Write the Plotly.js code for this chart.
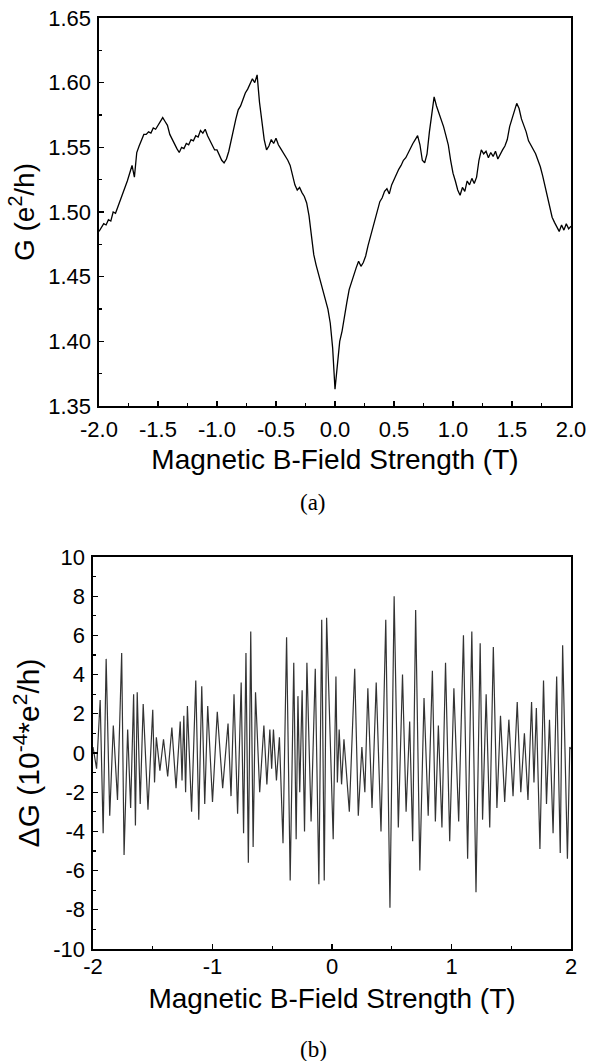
<!DOCTYPE html>
<html><head><meta charset="utf-8">
<script src="https://cdn.plot.ly/plotly-3.0.1.min.js"></script>
<style>html,body{margin:0;padding:0;background:#fff}#chart{width:598px;height:1061px}</style>
</head><body><div id="chart"></div>
<script>
// (a) conductance G (e^2/h) sampled every 0.02 T from -2 T to 2 T
const fieldStartA = -2.0;
const fieldStepA = 0.02;
const conductanceA = [
  1.485, 1.488, 1.491, 1.490, 1.494, 1.493, 1.500, 1.499, 1.504, 1.508,
  1.513, 1.518, 1.524, 1.530, 1.536, 1.527, 1.546, 1.551, 1.556, 1.560,
  1.560, 1.562, 1.561, 1.565, 1.564, 1.567, 1.571, 1.573, 1.570, 1.567,
  1.560, 1.556, 1.552, 1.549, 1.546, 1.550, 1.549, 1.553, 1.552, 1.556,
  1.555, 1.559, 1.558, 1.563, 1.561, 1.564, 1.559, 1.555, 1.551, 1.548,
  1.548, 1.544, 1.540, 1.538, 1.541, 1.547, 1.556, 1.564, 1.572, 1.579,
  1.582, 1.587, 1.592, 1.595, 1.599, 1.603, 1.600, 1.606, 1.585, 1.570,
  1.556, 1.548, 1.551, 1.556, 1.553, 1.557, 1.552, 1.549, 1.546, 1.544,
  1.540, 1.536, 1.529, 1.521, 1.517, 1.519, 1.515, 1.512, 1.507, 1.497,
  1.482, 1.467, 1.459, 1.452, 1.446, 1.440, 1.432, 1.425, 1.414, 1.395,
  1.363, 1.382, 1.400, 1.408, 1.420, 1.430, 1.440, 1.446, 1.452, 1.457,
  1.462, 1.458, 1.461, 1.466, 1.474, 1.481, 1.488, 1.496, 1.503, 1.508,
  1.511, 1.516, 1.518, 1.514, 1.521, 1.525, 1.530, 1.533, 1.536, 1.540,
  1.542, 1.546, 1.549, 1.553, 1.556, 1.559, 1.552, 1.540, 1.538, 1.545,
  1.562, 1.578, 1.589, 1.582, 1.577, 1.571, 1.566, 1.559, 1.552, 1.540,
  1.530, 1.524, 1.517, 1.513, 1.519, 1.516, 1.524, 1.521, 1.526, 1.522,
  1.527, 1.540, 1.548, 1.545, 1.547, 1.542, 1.546, 1.543, 1.547, 1.541,
  1.545, 1.548, 1.551, 1.556, 1.566, 1.572, 1.578, 1.584, 1.580, 1.572,
  1.567, 1.562, 1.555, 1.552, 1.548, 1.545, 1.540, 1.535, 1.528, 1.520,
  1.510, 1.503, 1.496, 1.492, 1.489, 1.485, 1.490, 1.486, 1.491, 1.487, 1.489
];

// (b) oscillating part ΔG (1e-4 e^2/h): turning points
const fieldB = [
  -2.000, -1.970, -1.940, -1.915, -1.890, -1.860, -1.830, -1.795, -1.760, -1.740,
  -1.710, -1.685, -1.660, -1.645, -1.630, -1.605, -1.580, -1.540, -1.500, -1.485,
  -1.470, -1.440, -1.410, -1.375, -1.340, -1.305, -1.270, -1.255, -1.240, -1.225,
  -1.210, -1.175, -1.140, -1.115, -1.090, -1.065, -1.040, -1.000, -0.960, -0.915,
  -0.870, -0.845, -0.820, -0.790, -0.760, -0.740, -0.720, -0.700, -0.680, -0.660,
  -0.640, -0.605, -0.570, -0.545, -0.520, -0.505, -0.490, -0.465, -0.440, -0.410,
  -0.380, -0.350, -0.320, -0.300, -0.285, -0.270, -0.250, -0.230, -0.210, -0.175,
  -0.140, -0.110, -0.086, -0.065, -0.045, 0.010, 0.033, 0.045, 0.060, 0.080,
  0.100, 0.145, 0.190, 0.220, 0.250, 0.275, 0.300, 0.335, 0.370, 0.410,
  0.450, 0.485, 0.520, 0.555, 0.590, 0.620, 0.650, 0.675, 0.700, 0.735,
  0.770, 0.805, 0.840, 0.865, 0.890, 0.920, 0.950, 0.985, 1.020, 1.060,
  1.100, 1.135, 1.170, 1.205, 1.240, 1.260, 1.290, 1.320, 1.350, 1.380,
  1.410, 1.445, 1.480, 1.515, 1.550, 1.580, 1.610, 1.640, 1.670, 1.690,
  1.710, 1.740, 1.770, 1.795, 1.820, 1.850, 1.880, 1.910, 1.930, 1.970,
  1.990, 2.000
];
const deltaGB = [
  0.3, -0.8, 2.7, -4.1, 4.8, -3.2, 1.4, -2.4, 5.1, -5.2,
  1.2, -2.8, 3.0, -3.7, 3.1, -2.6, 2.5, -2.9, 2.2, -1.5,
  0.8, -0.9, 0.7, -1.2, 1.3, -1.8, 1.6, -1.4, 1.9, -2.0,
  2.4, -3.0, 3.7, -3.4, 3.4, -2.6, 2.4, -2.5, 2.1, -1.8,
  1.5, -2.2, 3.0, -3.1, 3.6, -4.1, 5.1, -5.6, 6.2, -4.8,
  3.1, -2.0, 1.4, -1.6, 1.2, -0.8, 1.2, -1.4, 0.8, -4.6,
  5.9, -6.5, 4.6, -4.4, 2.9, -2.0, 3.2, -4.0, 4.6, -3.5,
  4.3, -6.7, 6.8, -6.5, 6.9, -4.4, 3.9, -1.5, 1.2, -1.6,
  0.7, -3.0, 4.3, -3.2, 0.3, -2.0, 3.3, -2.8, 3.6, -4.0,
  6.8, -7.9, 8.0, -3.8, 4.0, -3.0, 1.6, -4.5, 7.3, -6.0,
  2.8, -3.2, 4.2, -3.5, 1.4, -3.8, 4.6, -4.5, 3.3, -3.5,
  6.0, -5.4, 6.2, -7.1, 5.6, -3.4, 3.0, -3.8, 5.4, -2.8,
  1.9, -2.5, 1.7, -2.2, 2.6, -2.0, 1.0, -2.4, 2.6, -1.5,
  2.3, -4.9, 3.7, -2.6, 1.7, -4.1, 3.9, -5.1, 5.5, -5.4,
  0.3, 0.2
];

const xTickValsA = [-2.0, -1.5, -1.0, -0.5, 0.0, 0.5, 1.0, 1.5, 2.0];
const xTickTextA = ['-2.0', '-1.5', '-1.0', '-0.5', '0.0', '0.5', '1.0', '1.5', '2.0'];
const yTickValsA = [1.35, 1.40, 1.45, 1.50, 1.55, 1.60, 1.65];
const yTickTextA = ['1.35', '1.40', '1.45', '1.50', '1.55', '1.60', '1.65'];
const xTickValsB = [-2, -1, 0, 1, 2];
const xTickTextB = ['-2', '-1', '0', '1', '2'];
const yTickValsB = [-10, -8, -6, -4, -2, 0, 2, 4, 6, 8, 10];
const yTickTextB = ['-10', '-8', '-6', '-4', '-2', '0', '2', '4', '6', '8', '10'];

const fieldA = conductanceA.map((_, i) => +(fieldStartA + i * fieldStepA).toFixed(2));

const sans = 'Arial, "Liberation Sans", sans-serif';
const serif = '"Times New Roman", "Liberation Serif", serif';

function axisBase(extra) {
  return Object.assign({
    showline: true, linecolor: '#000', linewidth: 1.6, mirror: true,
    showgrid: false, zeroline: false,
    ticks: 'inside', ticklen: 5, tickwidth: 1.2, tickcolor: '#000',
    tickfont: {family: sans, size: 22, color: '#000'},
    fixedrange: true
  }, extra);
}

const traces = [
  {x: fieldA, y: conductanceA, xaxis: 'x', yaxis: 'y', type: 'scatter', mode: 'lines',
   line: {color: '#000', width: 1.3}, hoverinfo: 'skip'},
  {x: fieldB, y: deltaGB, xaxis: 'x2', yaxis: 'y2', type: 'scatter', mode: 'lines',
   line: {color: '#333', width: 1.2}, hoverinfo: 'skip'}
];

const layout = {
  width: 598, height: 1061,
  margin: {l: 93, r: 27, t: 18, b: 112},
  paper_bgcolor: '#fff', plot_bgcolor: '#fff',
  showlegend: false,
  xaxis: axisBase({domain: [0.01255, 1], anchor: 'y', range: [-2, 2],
    tickvals: xTickValsA, ticktext: xTickTextA, ticklabelstandoff: 3,
    minor: {ticks: 'inside', ticklen: 3, tickvals: [-1.75, -1.25, -0.75, -0.25, 0.25, 0.75, 1.25, 1.75], tickcolor: '#000'},
    title: {text: 'Magnetic B-Field Strength (T)', font: {family: sans, size: 28, color: '#000'}, standoff: 8}}),
  yaxis: axisBase({domain: [0.5832, 1], anchor: 'x', range: [1.35, 1.65],
    tickvals: yTickValsA, ticktext: yTickTextA, ticklabelstandoff: 2,
    minor: {ticks: 'inside', ticklen: 3, tickvals: [1.375, 1.425, 1.475, 1.525, 1.575, 1.625], tickcolor: '#000'},
    title: {text: 'G (e<sup>2</sup>/h)', font: {family: sans, size: 28, color: '#000'}, standoff: 5}}),
  xaxis2: axisBase({domain: [0, 1], anchor: 'y2', range: [-2, 2],
    tickvals: xTickValsB, ticktext: xTickTextB, ticklabelstandoff: -3,
    minor: {ticks: 'inside', ticklen: 3, tickvals: [-1.5, -0.5, 0.5, 1.5], tickcolor: '#000'},
    title: {text: 'Magnetic B-Field Strength (T)', font: {family: sans, size: 28, color: '#000'}, standoff: 10}}),
  yaxis2: axisBase({domain: [0, 0.4211], anchor: 'x2', range: [-10, 10],
    tickvals: yTickValsB, ticktext: yTickTextB, ticklabelstandoff: 2,
    minor: {ticks: 'inside', ticklen: 3, tickvals: [-9, -7, -5, -3, -1, 1, 3, 5, 7, 9], tickcolor: '#000'},
    title: {text: 'ΔG (10<sup>-4</sup>*e<sup>2</sup>/h)', font: {family: sans, size: 30, color: '#000'}, standoff: 4}}),
  annotations: [
    {text: '(a)', xref: 'paper', yref: 'paper', x: (313 - 93) / 478, y: (949 - 503) / 931,
     xanchor: 'center', yanchor: 'middle', showarrow: false, font: {family: serif, size: 23, color: '#000'}},
    {text: '(b)', xref: 'paper', yref: 'paper', x: (313 - 93) / 478, y: (949 - 1049) / 931,
     xanchor: 'center', yanchor: 'middle', showarrow: false, font: {family: serif, size: 23, color: '#000'}}
  ]
};

Plotly.newPlot('chart', traces, layout, {staticPlot: true, displayModeBar: false});
</script>
</body></html>
